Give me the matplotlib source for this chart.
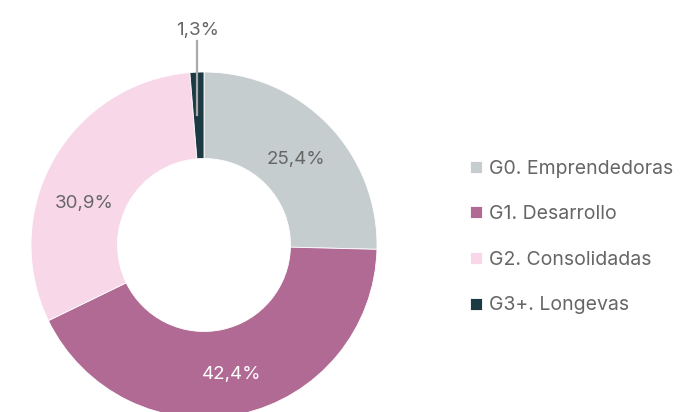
import numpy as np
import matplotlib.pyplot as plt

labels = ['G0. Emprendedoras', 'G1. Desarrollo', 'G2. Consolidadas', 'G3+. Longevas']
values = [25.4, 42.4, 30.9, 1.3]
colors = ['#c5cdcf', '#b06a93', '#f8d7e8', '#1c3a44']
pct_colors = ['#666666', '#ffffff', '#666666', '#666666']

plt.rcParams['font.family'] = ['Inter', 'DejaVu Sans']

W, H = 681, 412
fig = plt.figure(figsize=(W / 100, H / 100), dpi=100)
ax = fig.add_axes([0, 0, 1, 1])

cx, cy, R = 204, H - 245, 173
wedges, _ = ax.pie(values, colors=colors, startangle=90, counterclock=False,
                   center=(cx, cy), radius=R, frame=True,
                   wedgeprops=dict(width=R * 0.5, edgecolor='white', linewidth=0.6))
ax.set_xlim(0, W)
ax.set_ylim(0, H)
ax.set_aspect('equal')
ax.axis('off')

for i, (w, v) in enumerate(zip(wedges, values)):
    ang = np.deg2rad((w.theta1 + w.theta2) / 2)
    txt = f'{v:.1f}'.replace('.', ',') + '%'
    if v < 5:
        # vertical leader line
        lx = cx + np.cos(ang) * R * 0.96
        ax.plot([lx, lx], [cy + R * 0.75, cy + R * 1.18], color='#aaaaaa', lw=1.6)
        ax.text(lx, cy + R * 1.24, txt, ha='center', va='center',
                fontsize=13.5, color=pct_colors[i])
    else:
        r = R * 0.74
        if i == 2:
            ang += np.deg2rad(9)
        ax.text(cx + np.cos(ang) * r, cy + np.sin(ang) * r - 4, txt,
                ha='center', va='center', fontsize=13.5, color=pct_colors[i])

leg = ax.legend(wedges, labels, loc='center left', bbox_to_anchor=(453 / W, 1 - 237 / H),
                frameon=False, fontsize=14, handlelength=0.58, handleheight=0.58,
                handletextpad=0.35, labelspacing=1.42)
for t in leg.get_texts():
    t.set_color('#666666')

fig.savefig('out.png', dpi=100)
